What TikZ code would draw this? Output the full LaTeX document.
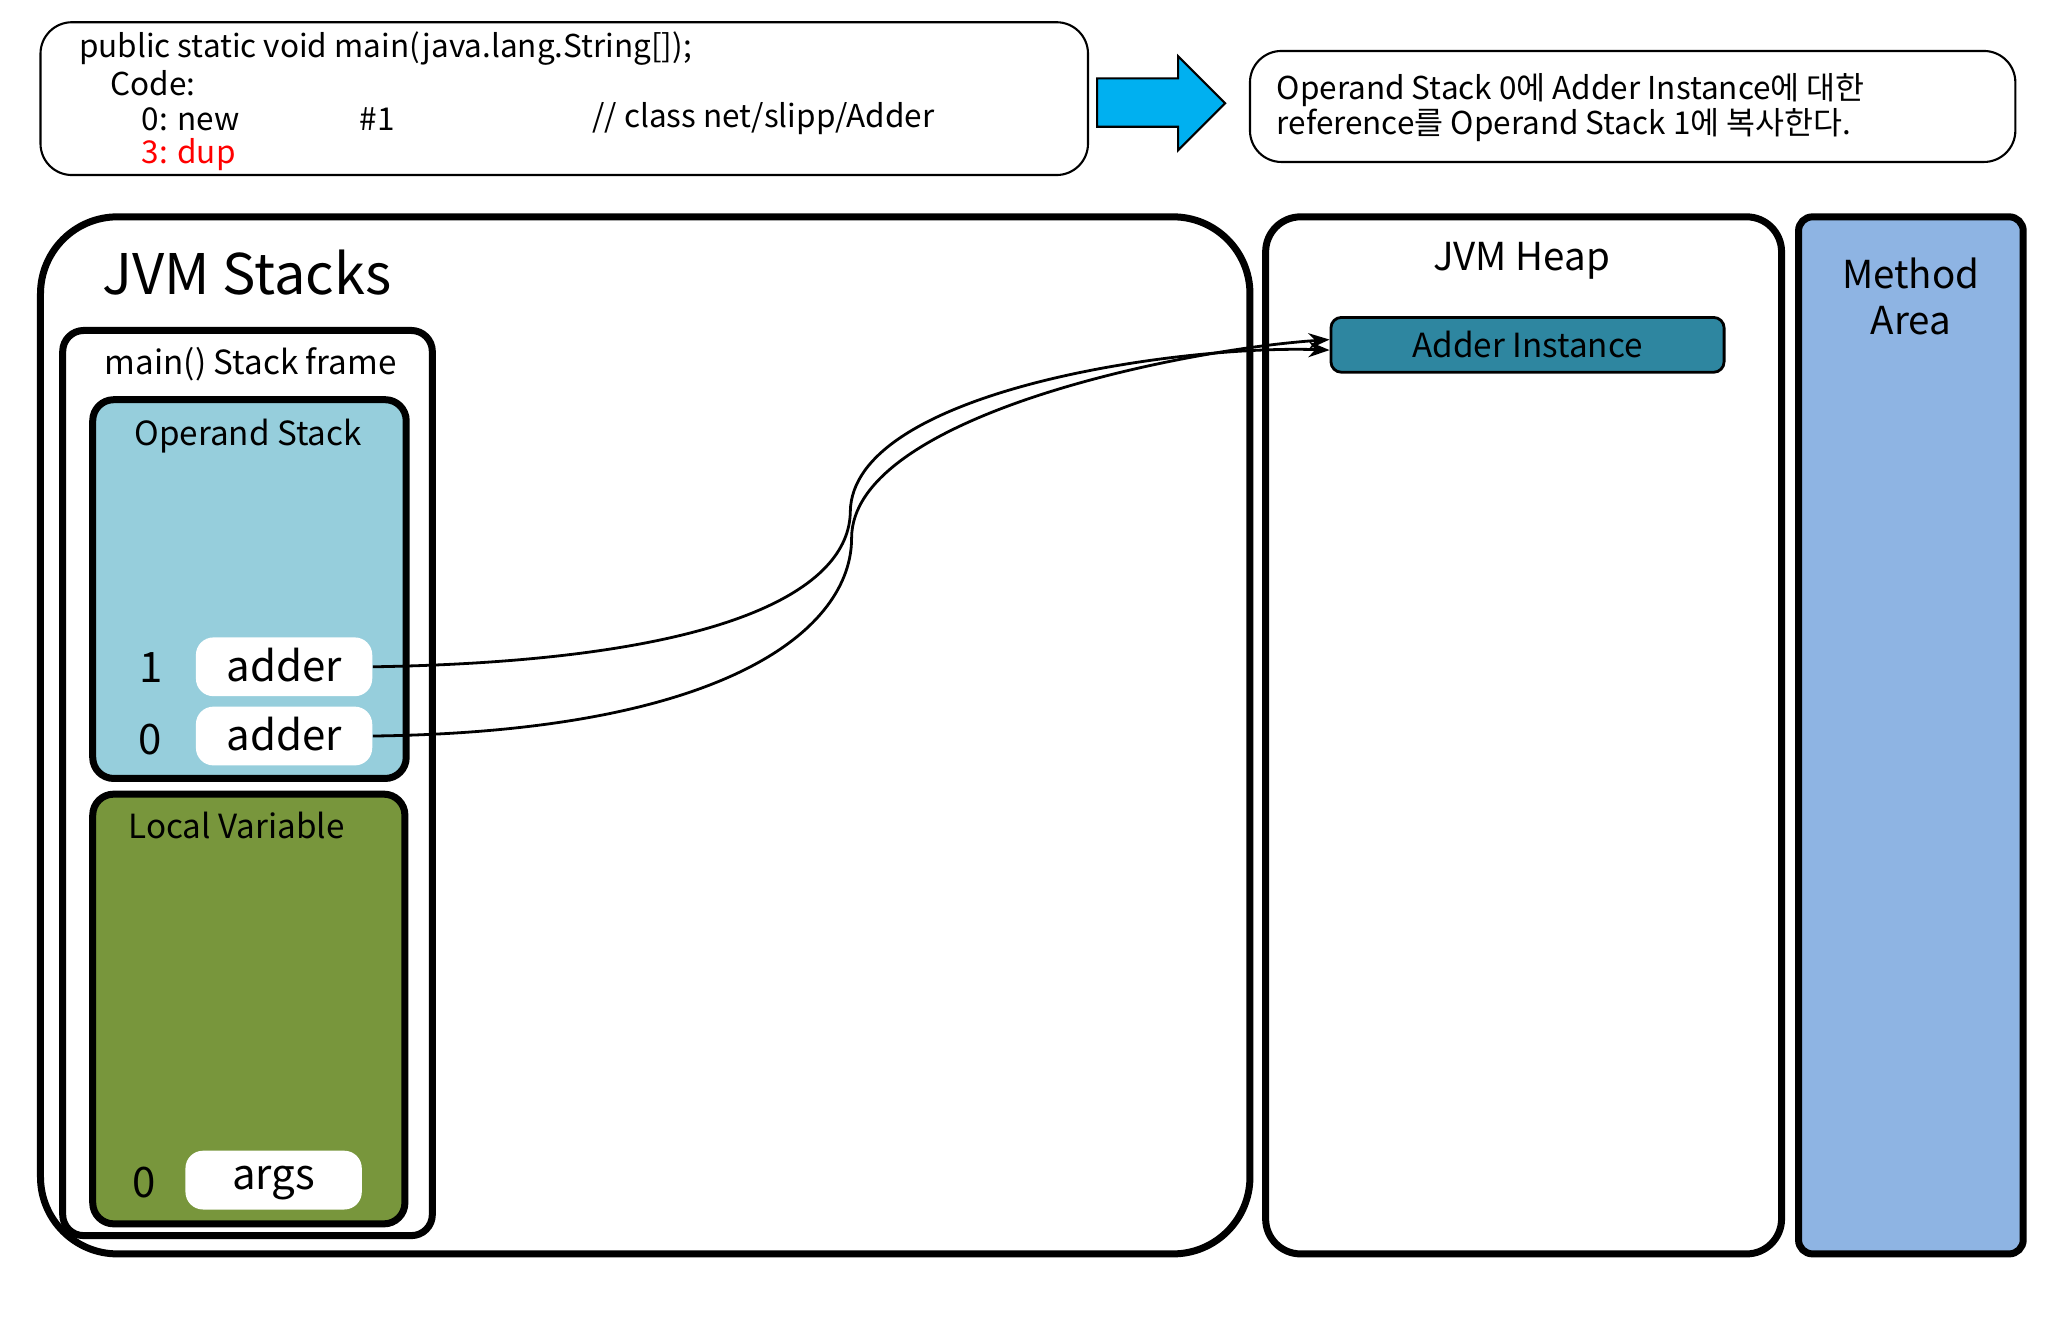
\documentclass[tikz,border=0pt]{standalone}
\usepackage{fontspec}
\setmainfont{Noto Sans CJK KR}
\usetikzlibrary{arrows.meta}
\definecolor{opst}{HTML}{96CEDC}
\definecolor{locv}{HTML}{78963C}
\definecolor{inst}{HTML}{2E86A0}
\definecolor{meth}{HTML}{8EB4E3}
\definecolor{arr}{HTML}{00B0F0}
\begin{document}
\begin{tikzpicture}[x=0.013128cm,y=-0.013128cm,
  thinbox/.style={draw,line width=0.6pt,rounded corners=9},
  thick box/.style={draw,line width=2pt,rounded corners=6},
  slot/.style={fill=white,rounded corners=5,minimum width=135*0.013128cm,minimum height=45*0.013128cm,font=\fontsize{12}{14}\selectfont,inner sep=0,text depth=0.25ex},
  txt/.style={font=\fontsize{9}{10}\selectfont,anchor=west,inner sep=0},
  ref/.style={line width=0.8pt,-{Stealth[length=6pt]}}]
\useasboundingbox (0,0) rectangle (1568,1015.2);
% code box
\draw[thinbox] (31,17) rectangle (833,134);
\node[txt] (c1) at (60,37) {public static void main(java.lang.String[]);};
\node[txt] (c2) at (84,64) {Code:};
\node[txt] (c3) at (108,91) {0: new};
\node[txt] (c4) at (275,91) {\#1};
\node[txt] (c5) at (453,91) {// class net/slipp/Adder};
\node[txt,text=red] (c6) at (108,118) {3: dup};
% arrow
\draw[fill=arr,line width=0.6pt] (840,60) -- (902,60) -- (902,43) -- (938,79) -- (902,115) -- (902,97) -- (840,97) -- cycle;
% explanation
\draw[thinbox] (957,39) rectangle (1543,124);
\node[txt] (e1) at (977,69) {Operand Stack 0에 Adder Instance에 대한};
\node[txt] (e2) at (977,96) {reference를 Operand Stack 1에 복사한다.};
% JVM stacks
\draw[line width=2pt,rounded corners=22] (31,166) rectangle (957,960);
\node[anchor=west,inner sep=0,font=\fontsize{16}{18}\selectfont] (js) at (78,209) {JVM Stacks};
\draw[thick box] (48,253) rectangle (331,946);
\node[font=\fontsize{9.5}{11}\selectfont] (sf) at (192,279) {main() Stack frame};
\draw[thick box,fill=opst] (71,306) rectangle (311,596);
\node[font=\fontsize{9.5}{11}\selectfont] (os) at (190,334) {Operand Stack};
\node[slot] (s1) at (217.5,510.5) {adder};
\node[slot] (s0) at (217.5,563.5) {adder};
\node[font=\fontsize{12}{14}\selectfont] (n1) at (116,511) {1};
\node[font=\fontsize{12}{14}\selectfont] (n0) at (115,566) {0};
\draw[thick box,fill=locv] (71,608) rectangle (310,937);
\node[font=\fontsize{9.5}{11}\selectfont] (lv) at (181,632) {Local Variable};
\node[slot] (a0) at (209.5,903.5) {args};
\node[font=\fontsize{12}{14}\selectfont] (m0) at (110,905) {0};
% heap
\draw[thick box,rounded corners=10] (969,166) rectangle (1364,960);
\node[font=\fontsize{11}{13}\selectfont] (hp) at (1165,200) {JVM Heap};
\node[draw,line width=0.8pt,fill=inst,rounded corners=3,minimum width=301*0.013128cm,minimum height=42*0.013128cm,inner sep=0,font=\fontsize{9.5}{11}\selectfont] (ai) at (1169.5,264) {Adder Instance};
% method area
\draw[thick box,rounded corners=4,fill=meth] (1377,166) rectangle (1549,960);
\node[align=center,font=\fontsize{11}{13}\selectfont] (ma) at (1463,227) {Method\\Area};
% refs
\draw[ref] (s1.east) .. controls (560,506) and (650,450) .. (651,392) .. controls (652,300) and (900,264) .. ([yshift=-1.5]ai.west);
\draw[ref] (s0.east) .. controls (560,560) and (652,480) .. (652,412) .. controls (652,320) and (900,268) .. ([yshift=1.5]ai.west);
\end{tikzpicture}
\end{document}
